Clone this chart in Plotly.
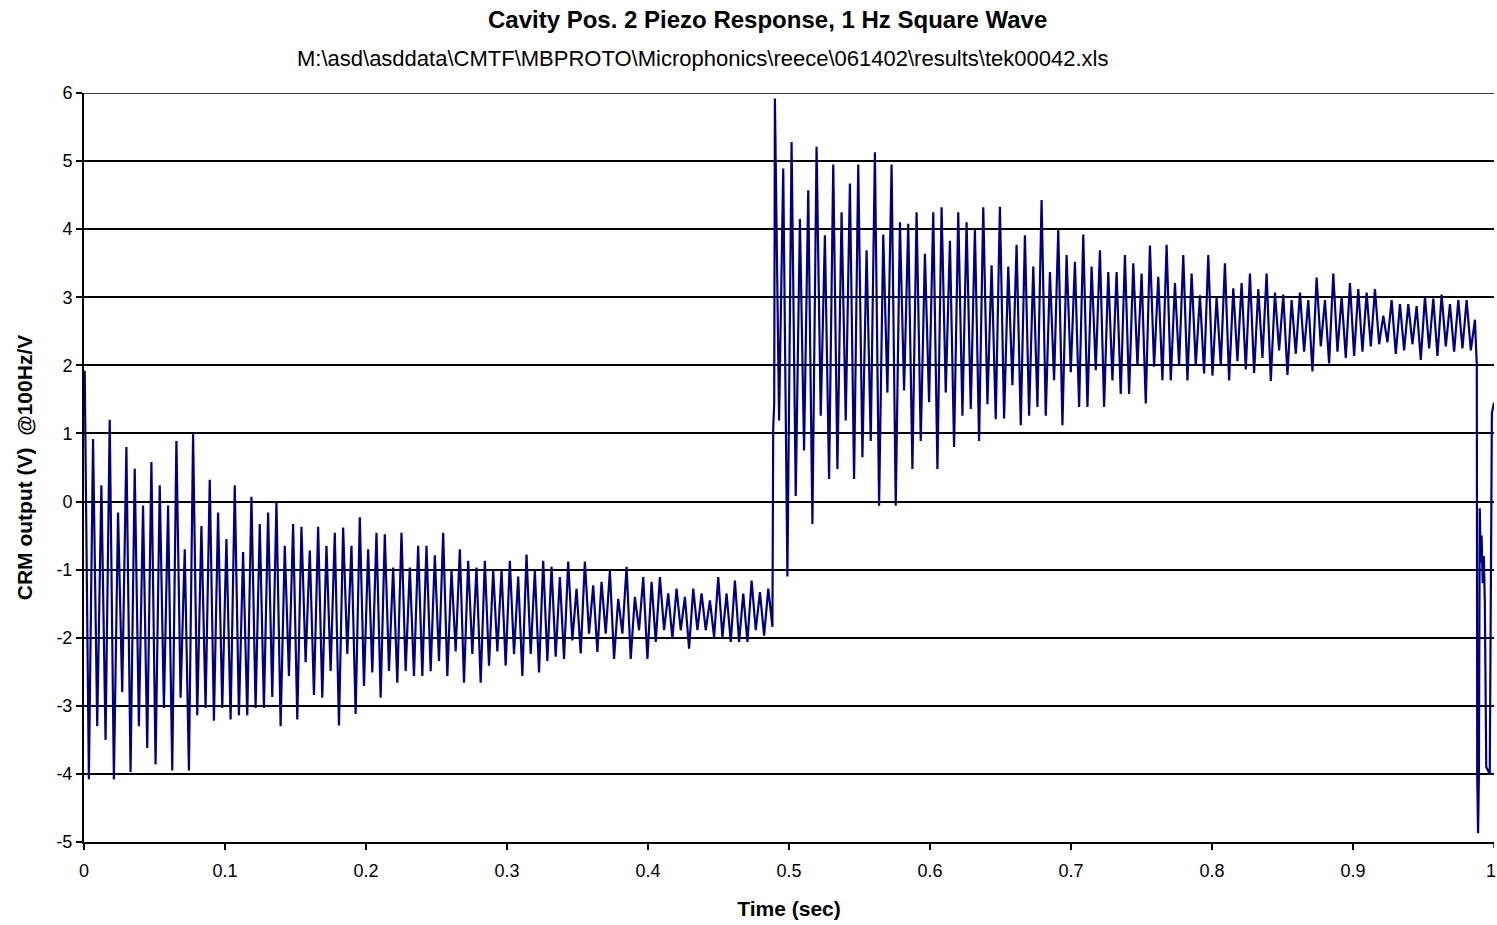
import numpy as np
import plotly.graph_objects as go

# ---------------- data ----------------
# Section 1 (low level, before the square-wave step): peak / trough of each cycle
seg1_peaks = [1.92, 0.92, 0.24, 1.2, -0.16, 0.8, 0.48, -0.06, 0.58, 0.24, -0.06, 0.89, -0.7, 0.99,
              -0.36, 0.32, -0.16, -0.55, 0.24, -0.74, 0.07, -0.33, -0.16, -0.01, -0.65, -0.33, -0.37,
              -0.72, -0.37,
              -0.65, -0.46, -0.38, -0.65, -0.23, -0.7, -0.46, -0.48, -0.97, -0.46, -0.97, -0.65, -0.65,
              -0.79, -0.46, -1.01, -0.7, -0.87, -0.97, -0.87, -1.01, -1.01, -0.87, -1.1, -0.78, -1.01,
              -0.87,
              -0.96, -1.11, -0.88, -1.28, -0.88, -1.23, -1.18, -1.02, -1.43, -0.96, -1.4, -1.11, -1.18,
              -1.11, -1.35, -1.28, -1.4, -1.28, -1.35, -1.45, -1.11, -1.35, -1.16, -1.35, -1.16, -1.33,
              -1.28]
seg1_troughs = [-4.08, -3.3, -3.5, -4.08, -2.8, -3.97, -3.3, -3.62, -3.86, -3.03, -3.95, -2.88, -3.95,
                -3.14, -3.03, -3.22, -3.03, -3.2, -3.14, -3.14, -3.03, -3.03, -2.87, -3.3, -2.56, -3.2,
                -2.36, -2.84,
                -2.88, -2.49, -3.29, -2.24, -3.12, -2.71, -2.51, -2.88, -2.49, -2.66, -2.49, -2.56, -2.56,
                -2.49, -2.34, -2.56, -2.2, -2.66, -2.24, -2.66, -2.41, -2.2, -2.41, -2.24, -2.56, -2.24,
                -2.51, -2.34,
                -2.28, -2.31, -2.04, -2.23, -1.94, -2.21, -1.94, -2.31, -1.94, -2.31, -1.89, -2.31, -2.06,
                -1.89, -2.01, -1.89, -2.16, -1.89, -1.89, -1.99, -1.99, -2.06, -2.06, -2.06, -1.89, -1.97,
                -1.84]

# Section 2 (high level, after the step)
seg2_peaks = [5.92,
              4.89, 5.28, 4.15, 4.57, 5.21, 3.91, 4.95, 4.25, 4.67, 4.95, 3.69, 5.13, 3.92, 4.95, 4.1,
              4.08, 4.25, 3.64, 4.25, 4.32, 3.83, 4.25, 4.1, 4.0, 4.32, 3.47,
              4.33, 3.45, 3.77, 3.91, 3.45, 4.43, 3.37, 4.0, 3.62, 3.52, 3.92, 3.45, 3.69, 3.37, 3.37,
              3.62, 3.5, 3.35, 3.76, 3.3, 3.77, 3.21, 3.62, 3.35, 3.03, 3.62, 3.0, 3.5, 3.13,
              3.21, 3.35, 3.12, 3.35, 3.07, 3.04, 2.96, 3.07, 2.96, 3.29, 2.96, 3.35, 3.01, 3.21, 3.12,
              3.07, 3.12, 2.73, 2.96, 2.9, 2.9, 2.87, 3.01, 2.98, 3.04, 2.9, 2.96, 2.96, 2.67]
seg2_troughs = [1.19, -1.1, 0.08, 0.75, -0.33, 1.26, 0.33, 0.48, 1.19, 0.33, 0.65, 0.89, -0.06, 1.6,
                -0.06, 1.63, 0.48, 0.89, 1.46, 0.48, 1.6, 0.8, 1.26, 1.36, 0.89, 1.43, 1.21,
                1.22, 1.71, 1.12, 1.26, 1.39, 1.26, 1.78, 1.12, 1.9, 1.39, 1.39, 1.93, 1.39, 1.78, 1.58,
                1.58, 2.0, 1.44, 1.98, 1.78, 1.78, 2.0, 1.78, 2.0, 1.88, 1.85, 2.0, 1.78,
                2.06, 1.94, 1.89, 2.11, 1.77, 2.22, 1.86, 2.17, 2.2, 1.91, 2.28, 2.03, 2.2, 2.11, 2.14,
                2.2, 2.28, 2.31, 2.34, 2.17, 2.22, 2.31, 2.08, 2.25, 2.14, 2.28, 2.2, 2.25, 2.22]

# explicit samples around the start, the step and the end of the record
start_t = [0.0]
start_v = [1.25]
step_t = [0.4888, 0.4895]
step_v = [1.09, 1.43]
end_t = [0.9872, 0.9878, 0.9881, 0.9887, 0.9893, 0.9899, 0.9906, 0.9912, 0.9920, 0.9928, 0.9935,
         0.9945, 0.9970, 0.9985, 1.0]
end_v = [2.3, 2.0, -4.0, -4.87, -4.0, -0.1, -0.9, -0.5, -1.2, -0.8, -1.5, -3.9, -4.0, 1.3, 1.45]

# sample-time grid of each section (start, end of the peak sequence)
seg1_span = (0.0005, 0.4853)
seg2_span = (0.4900, 0.9865)

x_tick_vals = [0, 0.1, 0.2, 0.3, 0.4, 0.5, 0.6, 0.7, 0.8, 0.9, 1]
x_tick_text = ["0", "0.1", "0.2", "0.3", "0.4", "0.5", "0.6", "0.7", "0.8", "0.9", "1"]
y_tick_vals = [-5, -4, -3, -2, -1, 0, 1, 2, 3, 4, 5, 6]
y_tick_text = ["-5", "-4", "-3", "-2", "-1", "0", "1", "2", "3", "4", "5", "6"]


def interleave(span, peaks, troughs):
    tp = np.linspace(span[0], span[1], len(peaks))
    half = (tp[1] - tp[0]) / 2.0
    t, v = [], []
    for i, p in enumerate(peaks):
        t.append(tp[i]); v.append(p)
        if i < len(troughs):
            t.append(tp[i] + half); v.append(troughs[i])
    return t, v


t1, v1 = interleave(seg1_span, seg1_peaks, seg1_troughs)
t2, v2 = interleave(seg2_span, seg2_peaks, seg2_troughs)
time = start_t + t1 + step_t + t2 + end_t
volts = start_v + v1 + step_v + v2 + end_v

# ---------------- figure ----------------
FONT = "Liberation Sans, Arial, sans-serif"
L, R, T, B = 84, 3, 93, 83
W, H = 1497, 925
pw = W - L - R
ph = H - T - B
TICK = 18

fig = go.Figure()
fig.add_trace(go.Scatter(x=time, y=volts, mode="lines",
                         line=dict(color="#000080", width=2.2),
                         hoverinfo="skip", showlegend=False))

fig.update_layout(
    width=W, height=H,
    margin=dict(l=L, r=R, t=T, b=B),
    paper_bgcolor="white", plot_bgcolor="white",
    font=dict(family=FONT, color="black", size=TICK),
    showlegend=False,
)
fig.update_xaxes(
    range=[0, 1], tickvals=x_tick_vals[:-1], ticktext=x_tick_text[:-1],
    showgrid=False, zeroline=False, showline=True, linecolor="black", linewidth=2,
    ticks="outside", ticklen=6, tickwidth=1.5, tickcolor="black",
    tickfont=dict(size=TICK, family=FONT), ticklabelstandoff=5,
    title=dict(text="<b>Time (sec)</b>", font=dict(size=21, family=FONT), standoff=22),
)
fig.update_yaxes(
    range=[-5, 6], tickvals=y_tick_vals, ticktext=y_tick_text,
    showgrid=True, gridcolor="black", gridwidth=1.5, zeroline=False,
    showline=True, linecolor="black", linewidth=2,
    ticks="outside", ticklen=6, tickwidth=1.5, tickcolor="black",
    tickfont=dict(size=TICK, family=FONT),
    title=dict(text="<b>CRM output (V)  @100Hz/V</b>", font=dict(size=21, family=FONT), standoff=18),
)

# gridline at the top of the value range (y = 6)
fig.add_shape(type="line", xref="paper", yref="y", x0=0, x1=1, y0=6, y1=6,
              line=dict(color="black", width=1.5), layer="below")
# tick mark and label of the last x tick, which sits on the right edge of the figure
fig.add_shape(type="line", xref="x", yref="paper", x0=x_tick_vals[-1], x1=x_tick_vals[-1],
              y0=0, y1=-6 / ph, line=dict(color="black", width=1.5))
fig.add_annotation(text=x_tick_text[-1], xref="x", yref="paper", x=x_tick_vals[-1],
                   y=-(871 - (H - B)) / ph, xanchor="right", xshift=4, yanchor="middle",
                   showarrow=False, font=dict(size=TICK, family=FONT, color="black"))

fig.add_annotation(text="<b>Cavity Pos. 2 Piezo Response, 1 Hz Square Wave</b>",
                   xref="paper", yref="paper", x=(767 - L) / pw, y=1 + (T - 20) / ph,
                   xanchor="center", yanchor="middle", showarrow=False,
                   font=dict(size=24, family=FONT, color="black"))
fig.add_annotation(text="M:\\asd\\asddata\\CMTF\\MBPROTO\\Microphonics\\reece\\061402\\results\\tek00042.xls",
                   xref="paper", yref="paper", x=(703 - L) / pw, y=1 + (T - 58) / ph,
                   xanchor="center", yanchor="middle", showarrow=False,
                   font=dict(size=22, family=FONT, color="black"))

fig.write_html("out.html")
